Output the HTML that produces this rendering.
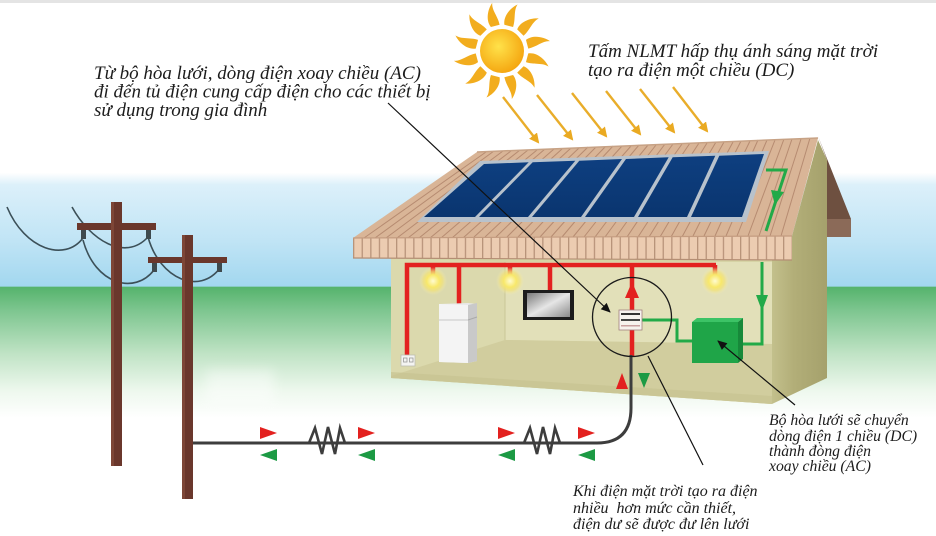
<!DOCTYPE html>
<html><head><meta charset="utf-8"><style>
html,body{margin:0;padding:0;background:#fff;}
svg{display:block;}
text{font-family:"Liberation Serif","DejaVu Serif",serif;font-style:italic;fill:#1c1c1c;}
</style></head><body>
<svg width="936" height="536" viewBox="0 0 936 536" xmlns="http://www.w3.org/2000/svg">
<defs>
<linearGradient id="bg" x1="0" y1="0" x2="0" y2="536" gradientUnits="userSpaceOnUse">
<stop offset="0" stop-color="#ffffff"/>
<stop offset="0.322" stop-color="#ffffff"/>
<stop offset="0.345" stop-color="#dcf0fa"/>
<stop offset="0.45" stop-color="#c0e4f5"/>
<stop offset="0.534" stop-color="#a2d7ef"/>
<stop offset="0.5355" stop-color="#55b36c"/>
<stop offset="0.58" stop-color="#7ec690"/>
<stop offset="0.66" stop-color="#c0e3c5"/>
<stop offset="0.73" stop-color="#eef8ee"/>
<stop offset="0.78" stop-color="#ffffff"/>
<stop offset="1" stop-color="#ffffff"/>
</linearGradient>
<radialGradient id="sun" cx="0.42" cy="0.4" r="0.6">
<stop offset="0" stop-color="#ffe24a"/>
<stop offset="1" stop-color="#f5a812"/>
</radialGradient>
<radialGradient id="bulb" cx="0.5" cy="0.5" r="0.5">
<stop offset="0" stop-color="#fffbd0"/>
<stop offset="0.45" stop-color="#f8e86a"/>
<stop offset="0.7" stop-color="#f2e27a" stop-opacity="0.7"/>
<stop offset="1" stop-color="#f5eeb0" stop-opacity="0"/>
</radialGradient>
<linearGradient id="tv" x1="0" y1="0" x2="1" y2="1">
<stop offset="0" stop-color="#7a7a7a"/>
<stop offset="0.5" stop-color="#e6e6e6"/>
<stop offset="1" stop-color="#8a8a8a"/>
</linearGradient>
<linearGradient id="panel" x1="0" y1="0" x2="0" y2="1">
<stop offset="0" stop-color="#0e3f80"/>
<stop offset="1" stop-color="#0a356f"/>
</linearGradient>
<linearGradient id="rwall" x1="0" y1="0" x2="1" y2="0">
<stop offset="0" stop-color="#c3c08c"/>
<stop offset="0.4" stop-color="#b2ae78"/>
<stop offset="1" stop-color="#a5a16c"/>
</linearGradient>
<pattern id="fas" patternUnits="userSpaceOnUse" x="353" y="0" width="8.6" height="40">
<rect width="8.6" height="40" fill="#ecccb1"/>
<rect width="1.3" height="40" fill="#b8937a"/>
</pattern>
<filter id="blur" x="-50%" y="-50%" width="200%" height="200%"><feGaussianBlur stdDeviation="6"/></filter>
<marker id="ga" viewBox="0 0 10 10" refX="8" refY="5" markerWidth="4.2" markerHeight="4.2" orient="auto"><path d="M0,0 L10,5 L0,10 z" fill="#eaaa22"/></marker>
<marker id="ba" viewBox="0 0 10 10" refX="9" refY="5" markerWidth="9" markerHeight="8" orient="auto"><path d="M0,0.5 L10,5 L0,9.5 z" fill="#111"/></marker>
<path id="ray" d="M-4.5,-26 C-8,-34 -3,-44 3,-49 C0.5,-42 5,-35 4.5,-26 Z" fill="#f2ad1e"/>
</defs>

<!-- background -->
<rect x="0" y="0" width="936" height="536" fill="url(#bg)"/>
<rect x="0" y="0" width="936" height="3" fill="#e4e4e4"/>
<rect x="206" y="370" width="68" height="34" fill="#ffffff" opacity="0.45" filter="url(#blur)"/>

<!-- sun -->
<g transform="translate(502,51)">
<use href="#ray" transform="rotate(15)"/>
<use href="#ray" transform="rotate(45)"/>
<use href="#ray" transform="rotate(75)"/>
<use href="#ray" transform="rotate(105)"/>
<use href="#ray" transform="rotate(135)"/>
<use href="#ray" transform="rotate(165)"/>
<use href="#ray" transform="rotate(195)"/>
<use href="#ray" transform="rotate(225)"/>
<use href="#ray" transform="rotate(255)"/>
<use href="#ray" transform="rotate(285)"/>
<use href="#ray" transform="rotate(315)"/>
<use href="#ray" transform="rotate(345)"/>
<circle r="22" fill="url(#sun)"/>
</g>

<!-- sun ray arrows -->
<g stroke="#e9ad2a" stroke-width="2.4" marker-end="url(#ga)">
<line x1="503" y1="97" x2="538" y2="142"/>
<line x1="537" y1="95" x2="572" y2="139"/>
<line x1="572" y1="93" x2="606" y2="136"/>
<line x1="606" y1="91" x2="640" y2="134"/>
<line x1="640" y1="89" x2="674" y2="132"/>
<line x1="673" y1="87" x2="707" y2="131"/>
</g>

<!-- power poles & wires -->
<g fill="none" stroke="#3c5058" stroke-width="1.6">
<path d="M7,207 C25,250 65,262 83,238"/>
<path d="M72,207 C90,240 125,262 148,237"/>
<path d="M83,240 C95,285 135,295 154,270"/>
<path d="M148,237 C160,280 200,295 220,268"/>
</g>
<g fill="#6a372c">
<rect x="111" y="202" width="11" height="264"/>
<rect x="77" y="223" width="79" height="7"/>
<rect x="182" y="235" width="11" height="264"/>
<rect x="148" y="257" width="79" height="6"/>
</g>
<g fill="#8a5040" opacity="0.6">
<rect x="111" y="202" width="3" height="264"/>
<rect x="182" y="235" width="3" height="264"/>
</g>
<g fill="#3e4a4e">
<rect x="81" y="230" width="5" height="9"/>
<rect x="146" y="230" width="5" height="9"/>
<rect x="152" y="263" width="5" height="9"/>
<rect x="217" y="263" width="5" height="9"/>
</g>

<!-- house right wall -->
<polygon points="818,140 827,160 827,378 772,404 772,260 792,236" fill="url(#rwall)"/>
<!-- barge board -->
<polygon points="818,136 851,219 851,237 827,237 827,160" fill="#6e5040"/>
<polygon points="827,219 851,219 851,237 827,237" fill="#8b6a58"/>

<!-- interior -->
<polygon points="391,258 772,260 772,404 391,378" fill="#d6d3a5"/>
<polygon points="505,262 772,262 772,344 505,340" fill="#e2e0b9"/>
<polygon points="391,258 505,262 505,340 391,376" fill="#dbd9ad"/>
<polygon points="391,376 505,340 772,344 772,404 391,378" fill="#d1cd9e"/>
<line x1="505" y1="262" x2="505" y2="340" stroke="#c9c697" stroke-width="1"/>
<polygon points="391,372 772,396 772,404 391,378" fill="#c7c391" opacity="0.7"/>

<!-- roof surface -->
<polygon points="477,152 818,138 792,236 353,238" fill="#d9b597"/>
<g stroke="#b68b71" stroke-width="1">
<line x1="486" y1="152" x2="364" y2="238"/>
<line x1="494" y1="151" x2="375" y2="238"/>
<line x1="503" y1="151" x2="386" y2="238"/>
<line x1="511" y1="151" x2="397" y2="238"/>
<line x1="520" y1="150" x2="408" y2="238"/>
<line x1="528" y1="150" x2="419" y2="238"/>
<line x1="537" y1="150" x2="430" y2="238"/>
<line x1="545" y1="149" x2="441" y2="238"/>
<line x1="554" y1="149" x2="452" y2="238"/>
<line x1="562" y1="149" x2="463" y2="238"/>
<line x1="571" y1="148" x2="474" y2="237"/>
<line x1="579" y1="148" x2="485" y2="237"/>
<line x1="588" y1="147" x2="496" y2="237"/>
<line x1="596" y1="147" x2="507" y2="237"/>
<line x1="605" y1="147" x2="518" y2="237"/>
<line x1="613" y1="146" x2="529" y2="237"/>
<line x1="622" y1="146" x2="540" y2="237"/>
<line x1="631" y1="146" x2="551" y2="237"/>
<line x1="639" y1="145" x2="562" y2="237"/>
<line x1="648" y1="145" x2="573" y2="237"/>
<line x1="656" y1="145" x2="584" y2="237"/>
<line x1="665" y1="144" x2="595" y2="237"/>
<line x1="673" y1="144" x2="605" y2="237"/>
<line x1="682" y1="144" x2="616" y2="237"/>
<line x1="690" y1="143" x2="627" y2="237"/>
<line x1="699" y1="143" x2="638" y2="237"/>
<line x1="707" y1="143" x2="649" y2="237"/>
<line x1="716" y1="142" x2="660" y2="237"/>
<line x1="724" y1="142" x2="671" y2="237"/>
<line x1="733" y1="142" x2="682" y2="237"/>
<line x1="741" y1="141" x2="693" y2="236"/>
<line x1="750" y1="141" x2="704" y2="236"/>
<line x1="758" y1="140" x2="715" y2="236"/>
<line x1="767" y1="140" x2="726" y2="236"/>
<line x1="775" y1="140" x2="737" y2="236"/>
<line x1="784" y1="139" x2="748" y2="236"/>
<line x1="792" y1="139" x2="759" y2="236"/>
<line x1="801" y1="139" x2="770" y2="236"/>
<line x1="810" y1="138" x2="781" y2="236"/>
</g>
<line x1="477" y1="152" x2="818" y2="138" stroke="#c7a285" stroke-width="1.5"/>

<!-- fascia -->
<polygon points="353,238 792,236 792,260 353,258" fill="url(#fas)"/>
<line x1="353" y1="238" x2="792" y2="236" stroke="#c49c80" stroke-width="1.2"/>
<line x1="353" y1="258" x2="792" y2="260" stroke="#b48e74" stroke-width="1.2"/>

<!-- solar panels -->
<polygon points="480,161 769,151 746,222 417,222" fill="#b8c2cc"/>
<g fill="url(#panel)">
<polygon points="484,164 528.7,162.3 475,217 424,217"/>
<polygon points="532.7,162.3 575.3,160.7 528,217 479,217"/>
<polygon points="579.3,160.7 622,159 581,217 532,217"/>
<polygon points="626,159 668.7,157.3 634,217 585,217"/>
<polygon points="672.7,157.3 715.3,155.7 687,217 638,217"/>
<polygon points="719.3,155.7 764,154 742,217 691,217"/>
</g>

<!-- green DC wire -->
<g fill="none" stroke="#22aa48" stroke-width="3">
<polyline points="766,170 786,170 766,231"/>
<polyline points="762,262 762,296"/>
<polyline points="742,344 762,344 762,306"/>
<polyline points="642,320 677,320 677,341 692,341"/>
</g>
<polygon points="771,190 784,192 775,205" fill="#22aa48"/>
<polygon points="756,295 768,295 762,311" fill="#22aa48"/>

<!-- red wiring -->
<g fill="none" stroke="#e3211f" stroke-width="4.5">
<polyline points="407,357 407,265 716,265"/>
<line x1="433" y1="265" x2="433" y2="276"/>
<line x1="459" y1="265" x2="459" y2="304"/>
<line x1="510" y1="265" x2="510" y2="276"/>
<line x1="550" y1="265" x2="550" y2="291"/>
<line x1="715" y1="265" x2="715" y2="276"/>
<line x1="632" y1="265" x2="632" y2="356"/>
</g>
<polygon points="625,298 639,298 632,282" fill="#e3211f"/>

<!-- lamps -->
<circle cx="433" cy="281" r="14" fill="url(#bulb)"/>
<circle cx="510" cy="281" r="14" fill="url(#bulb)"/>
<circle cx="715" cy="281" r="14" fill="url(#bulb)"/>

<!-- socket -->
<rect x="401" y="355" width="14" height="11" fill="#f4f4f2" stroke="#bdbdb0" stroke-width="0.8"/>
<rect x="403.5" y="358" width="3.5" height="4" fill="none" stroke="#999" stroke-width="0.8"/>
<rect x="409.5" y="358" width="3.5" height="4" fill="none" stroke="#999" stroke-width="0.8"/>

<!-- fridge -->
<polygon points="439,304 468,303 477,304 477,361 468,363 439,362" fill="#e9e9e9"/>
<polygon points="439,304 468,305 468,363 439,362" fill="#f4f4f4"/>
<polygon points="468,305 477,303 477,361 468,363" fill="#c9c9c9"/>
<line x1="468" y1="320" x2="477" y2="317" stroke="#aaa" stroke-width="1"/>
<line x1="439" y1="320" x2="468" y2="320" stroke="#c8c8c8" stroke-width="1"/>

<!-- TV -->
<rect x="523" y="290" width="51" height="30" fill="#1c1c1c"/>
<rect x="527" y="293" width="43" height="24" fill="url(#tv)"/>

<!-- meter -->
<rect x="619" y="310" width="23" height="20" fill="#f6f2ee" stroke="#a08080" stroke-width="0.8"/>
<rect x="621" y="313" width="19" height="2" fill="#333"/>
<rect x="621" y="319" width="19" height="2" fill="#444"/>
<rect x="621" y="325" width="19" height="1.5" fill="#c9a0a0"/>

<!-- inverter box -->
<polygon points="692,322 697,318 743,318 738,322" fill="#3cc366"/>
<polygon points="738,322 743,318 743,359 738,363" fill="#17893a"/>
<rect x="692" y="322" width="46" height="41" fill="#1fa548"/>

<!-- main cable -->
<path d="M193,443 L597,443 Q631,443 631,408 L631,355" fill="none" stroke="#3d3d3d" stroke-width="3"/>
<g fill="none" stroke="#3d3d3d" stroke-width="2.6" stroke-linejoin="miter">
<polyline points="309,443 315,428 322,454 328,427 335,454 340,428 345,443"/>
<polyline points="524,443 530,428 537,454 543,427 550,454 555,428 560,443"/>
</g>

<!-- flow arrows -->
<g fill="#e3211f">
<polygon points="260,427 277,433 260,439"/>
<polygon points="358,427 375,433 358,439"/>
<polygon points="498,427 515,433 498,439"/>
<polygon points="578,427 595,433 578,439"/>
<polygon points="616,389 628,389 622,373"/>
</g>
<g fill="#1c9a44">
<polygon points="277,449 260,455 277,461"/>
<polygon points="375,449 358,455 375,461"/>
<polygon points="515,449 498,455 515,461"/>
<polygon points="595,449 578,455 595,461"/>
<polygon points="638,373 650,373 644,388"/>
</g>

<!-- callout circle and leaders -->
<circle cx="632" cy="317" r="39.5" fill="none" stroke="#1a1a1a" stroke-width="1.3"/>
<g stroke="#111" stroke-width="1.2" fill="none">
<line x1="388" y1="103" x2="610" y2="312" marker-end="url(#ba)"/>
<line x1="795" y1="405" x2="718" y2="341" marker-end="url(#ba)"/>
<line x1="703" y1="465" x2="648" y2="356"/>
</g>

<!-- text -->
<g font-size="19">
<text x="94" y="79">Từ bộ hòa lưới, dòng điện xoay chiều (AC)</text>
<text x="94" y="97.5">đi đến tủ điện cung cấp điện cho các thiết bị</text>
<text x="94" y="116">sử dụng trong gia đình</text>
<text x="588" y="57">Tấm NLMT hấp thụ ánh sáng mặt trời</text>
<text x="588" y="76">tạo ra điện một chiều (DC)</text>
</g>
<g font-size="15.7">
<text x="769" y="425">Bộ hòa lưới sẽ chuyển</text>
<text x="769" y="441">dòng điện 1 chiều (DC)</text>
<text x="769" y="456">thành đòng điện</text>
<text x="769" y="471">xoay chiều (AC)</text>
</g>
<g font-size="16">
<text x="573" y="496">Khi điện mặt trời tạo ra điện</text>
<text x="573" y="513">nhiều&#160; hơn mức cần thiết,</text>
<text x="573" y="529">điện dư sẽ được đư lên lưới</text>
</g>
</svg>
</body></html>
